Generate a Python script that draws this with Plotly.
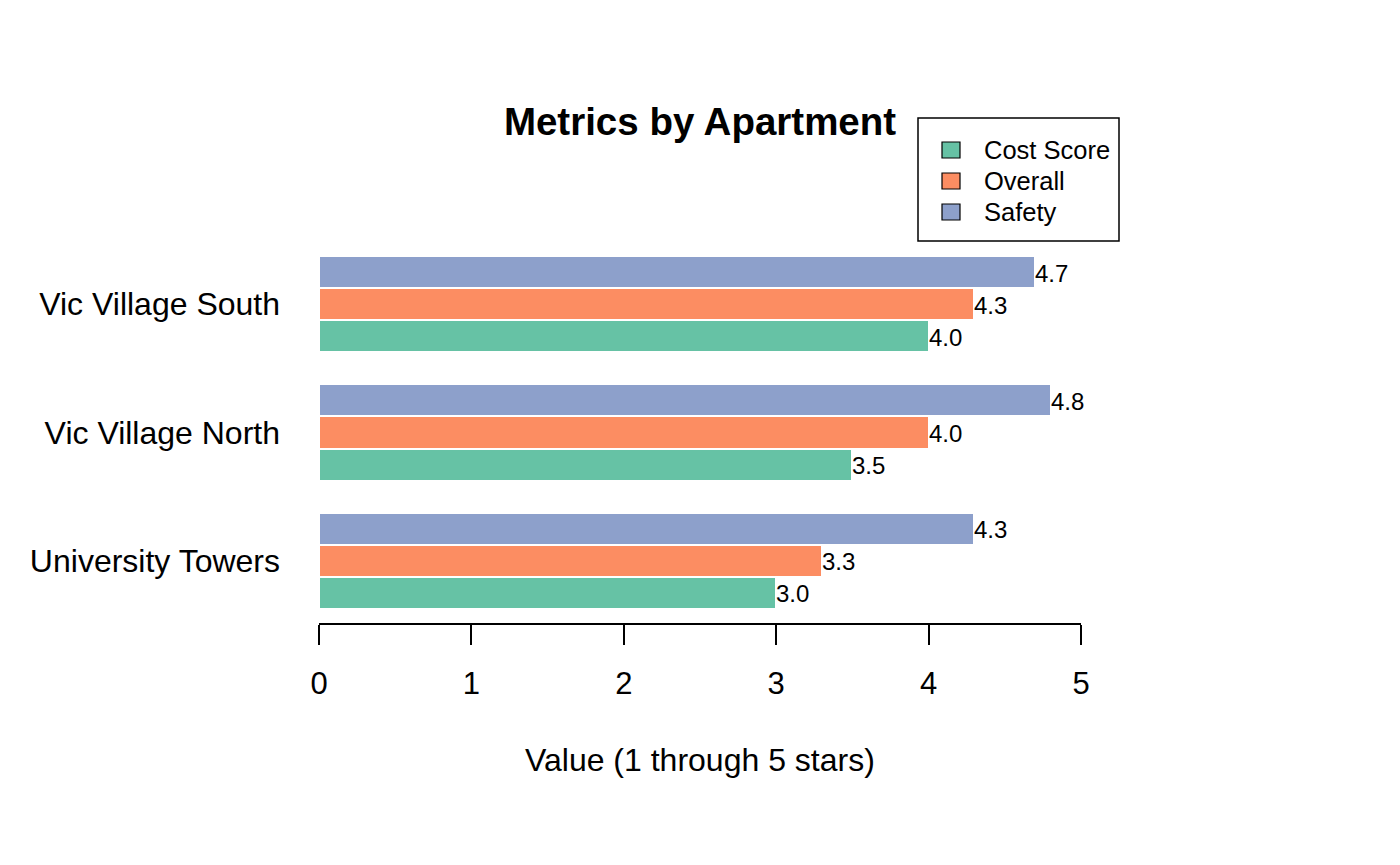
import plotly.graph_objects as go

apartments = ["University Towers", "Vic Village North", "Vic Village South"]
series_names = ["Cost Score", "Overall", "Safety"]
cost_score = [3.0, 3.5, 4.0]
overall = [3.3, 4.0, 4.3]
safety = [4.3, 4.8, 4.7]
colors = ["#66C2A5", "#FC8D62", "#8DA0CB"]
x_ticks = [0, 1, 2, 3, 4, 5]

series_values = [cost_score, overall, safety]
FONT = "Liberation Sans, Arial, Helvetica, sans-serif"

OFF = 8  # page body margin
W, H = 1400, 865
PL, PR, PT, PB = 319 - OFF, 1081 - OFF, 242 - OFF, 623 - OFF  # plot area pixels in figure


def px2paper(px, py):
    px -= OFF
    py -= OFF
    return (px - PL) / (PR - PL), (PB - py) / (PB - PT)


fig = go.Figure()
n_series = len(series_names)
for s, (name, vals, col) in enumerate(zip(series_names, series_values, colors)):
    # R barplot(beside=TRUE, horiz=TRUE) positions: space 1 before each group
    ys = [1 + g * (n_series + 1) + s + 0.5 for g in range(len(apartments))]
    fig.add_trace(go.Bar(
        x=vals, y=ys, orientation="h", width=1.0, name=name,
        marker=dict(color=col, line=dict(color="white", width=2)),
        showlegend=False, hoverinfo="x+name",
    ))
    for v, yy in zip(vals, ys):
        fig.add_annotation(text=f"{v:.1f}", x=v, y=yy, xref="x", yref="y",
                           xanchor="left", yanchor="middle", showarrow=False,
                           xshift=-2, yshift=-1,
                           font=dict(family=FONT, size=24, color="black"))

group_centers = [1 + g * (n_series + 1) + n_series / 2 for g in range(len(apartments))]
top = len(apartments) * (n_series + 1)
span = top - 1

fig.update_layout(
    width=W, height=H,
    margin=dict(l=PL, r=W - PR, t=PT, b=H - PB, pad=0),
    plot_bgcolor="white", paper_bgcolor="white",
    bargap=0, barmode="overlay",
    font=dict(family=FONT, color="black"),
    title=dict(text="<b>Metrics by Apartment</b>", x=(700 - OFF) / W, xanchor="center",
               y=1 - (122 - OFF) / H, yanchor="middle", yref="container", xref="container",
               font=dict(family=FONT, size=38.5, color="black")),
    xaxis=dict(range=[0, 5], tickvals=x_ticks, ticktext=[str(t) for t in x_ticks],
               showgrid=False, zeroline=False, showline=True, linecolor="black",
               linewidth=1.5, ticks="outside", ticklen=20, tickwidth=1.5,
               tickcolor="black", ticklabelstandoff=12,
               tickfont=dict(family=FONT, size=31, color="black")),
    yaxis=dict(range=[1 - 0.04 * span, top + 0.04 * span], tickvals=group_centers,
               ticktext=apartments, showgrid=False, zeroline=False, showline=False,
               ticks="", ticklabelstandoff=38,
               tickfont=dict(family=FONT, size=32, color="black")),
)

# x axis title
_, ty = px2paper(0, 760)
fig.add_annotation(text="Value (1 through 5 stars)", x=0.5, y=ty, xref="paper", yref="paper",
                   xanchor="center", yanchor="middle", showarrow=False,
                   font=dict(family=FONT, size=32, color="black"))

# legend box (R style)
x0, y0 = px2paper(918, 241)
x1, y1 = px2paper(1119, 118)
fig.add_shape(type="rect", xref="paper", yref="paper", x0=x0, y0=y0, x1=x1, y1=y1,
              line=dict(color="black", width=1.5), fillcolor="white")
for i, (name, col) in enumerate(zip(series_names, colors)):
    cy = 150 + i * 31
    a0, b0 = px2paper(942, cy + 8)
    a1, b1 = px2paper(960, cy - 8)
    fig.add_shape(type="rect", xref="paper", yref="paper", x0=a0, y0=b0, x1=a1, y1=b1,
                  line=dict(color="black", width=1.2), fillcolor=col)
    tx, tyy = px2paper(982, cy)
    fig.add_annotation(text=name, x=tx, y=tyy, xref="paper", yref="paper",
                       xanchor="left", yanchor="middle", showarrow=False,
                       font=dict(family=FONT, size=25.5, color="black"))

fig.write_html("out.html")
